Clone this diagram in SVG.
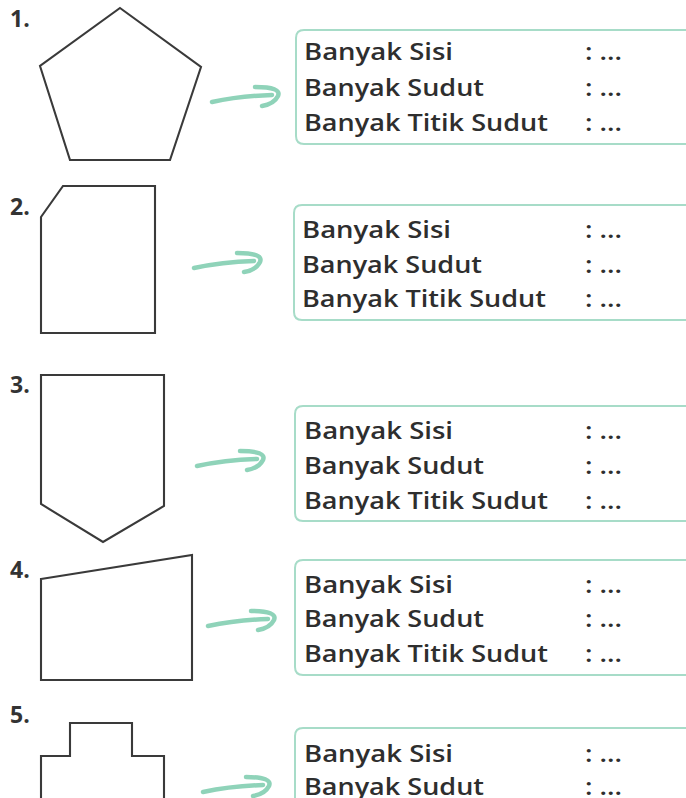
<svg xmlns="http://www.w3.org/2000/svg" width="686" height="798" viewBox="0 0 686 798">
<style>
.shape{fill:none;stroke:#3a3a3a;stroke-width:2.1;stroke-linejoin:miter}
.num{font-family:"Open Sans","Liberation Sans",sans-serif;font-weight:700;font-size:23px;fill:#333}
.box{fill:none;stroke:#a7dcc8;stroke-width:2}
.t{font-family:"Open Sans","Liberation Sans",sans-serif;font-weight:600;font-size:23px;fill:#2e2e2e}
.arr{fill:none;stroke:#8fd3b9;stroke-width:4.5;stroke-linecap:round;stroke-linejoin:round}
</style>
<rect width="686" height="798" fill="#fff"/>

<g id="item1">
<text class="num" x="10" y="27">1.</text>
<polygon class="shape" points="120,8 201,67 170,160 70,160 40,66"/>
</g>
<g id="item2">
<text class="num" x="10" y="215">2.</text>
<polygon class="shape" points="63,186 155,186 155,333 41,333 41,217"/>
</g>
<g id="item3">
<text class="num" x="10" y="393">3.</text>
<polygon class="shape" points="41,375 164,375 164,506 103,542 41,504"/>
</g>
<g id="item4">
<text class="num" x="10" y="578">4.</text>
<polygon class="shape" points="41,579 192,555 192,680 41,680"/>
</g>
<g id="item5">
<text class="num" x="10" y="723">5.</text>
<polyline class="shape" points="41,800 41,756 70,756 70,723 132,723 132,756 164,756 164,800"/>
</g>

<g id="connectors">
<g class="arr">
<path d="M212,102 Q240,96 272,95 M255,87 Q282,87 278,96 Q274,104 262,106"/>
<path d="M194,268 Q222,262 254,261 M237,253 Q264,253 260,262 Q256,270 244,272"/>
<path d="M197,466 Q225,460 257,459 M240,451 Q267,451 263,460 Q259,468 247,470"/>
<path d="M208,626 Q236,620 268,619 M251,611 Q278,611 274,620 Q270,628 258,630"/>
<path d="M203,792 Q231,786 263,785 M246,777 Q273,777 269,786 Q265,794 253,796"/>
</g>
</g>

<g id="box1">
<path class="box" d="M700,30 H304 Q296,30 296,38 V136 Q296,144 304,144 H700"/>
<text class="t" x="304" y="60" textLength="149" lengthAdjust="spacingAndGlyphs">Banyak Sisi</text>
<text class="t" x="304" y="96" textLength="180" lengthAdjust="spacingAndGlyphs">Banyak Sudut</text>
<text class="t" x="304" y="131" textLength="244" lengthAdjust="spacingAndGlyphs">Banyak Titik Sudut</text>
<text class="t" x="585" y="60" textLength="37" lengthAdjust="spacingAndGlyphs">: ...</text>
<text class="t" x="585" y="96" textLength="37" lengthAdjust="spacingAndGlyphs">: ...</text>
<text class="t" x="585" y="131" textLength="37" lengthAdjust="spacingAndGlyphs">: ...</text>
</g>
<g id="box2">
<path class="box" d="M700,205 H302 Q294,205 294,213 V312 Q294,320 302,320 H700"/>
<text class="t" x="302" y="238" textLength="149" lengthAdjust="spacingAndGlyphs">Banyak Sisi</text>
<text class="t" x="302" y="273" textLength="180" lengthAdjust="spacingAndGlyphs">Banyak Sudut</text>
<text class="t" x="302" y="307" textLength="244" lengthAdjust="spacingAndGlyphs">Banyak Titik Sudut</text>
<text class="t" x="585" y="238" textLength="37" lengthAdjust="spacingAndGlyphs">: ...</text>
<text class="t" x="585" y="273" textLength="37" lengthAdjust="spacingAndGlyphs">: ...</text>
<text class="t" x="585" y="307" textLength="37" lengthAdjust="spacingAndGlyphs">: ...</text>
</g>
<g id="box3">
<path class="box" d="M700,406 H303 Q295,406 295,414 V513 Q295,521 303,521 H700"/>
<text class="t" x="304" y="439" textLength="149" lengthAdjust="spacingAndGlyphs">Banyak Sisi</text>
<text class="t" x="304" y="474" textLength="180" lengthAdjust="spacingAndGlyphs">Banyak Sudut</text>
<text class="t" x="304" y="509" textLength="244" lengthAdjust="spacingAndGlyphs">Banyak Titik Sudut</text>
<text class="t" x="585" y="439" textLength="37" lengthAdjust="spacingAndGlyphs">: ...</text>
<text class="t" x="585" y="474" textLength="37" lengthAdjust="spacingAndGlyphs">: ...</text>
<text class="t" x="585" y="509" textLength="37" lengthAdjust="spacingAndGlyphs">: ...</text>
</g>
<g id="box4">
<path class="box" d="M700,560 H303 Q295,560 295,568 V667 Q295,675 303,675 H700"/>
<text class="t" x="304" y="593" textLength="149" lengthAdjust="spacingAndGlyphs">Banyak Sisi</text>
<text class="t" x="304" y="627" textLength="180" lengthAdjust="spacingAndGlyphs">Banyak Sudut</text>
<text class="t" x="304" y="662" textLength="244" lengthAdjust="spacingAndGlyphs">Banyak Titik Sudut</text>
<text class="t" x="585" y="593" textLength="37" lengthAdjust="spacingAndGlyphs">: ...</text>
<text class="t" x="585" y="627" textLength="37" lengthAdjust="spacingAndGlyphs">: ...</text>
<text class="t" x="585" y="662" textLength="37" lengthAdjust="spacingAndGlyphs">: ...</text>
</g>
<g id="box5">
<path class="box" d="M700,728 H303 Q295,728 295,736 V810"/>
<text class="t" x="304" y="762" textLength="149" lengthAdjust="spacingAndGlyphs">Banyak Sisi</text>
<text class="t" x="304" y="795" textLength="180" lengthAdjust="spacingAndGlyphs">Banyak Sudut</text>
<text class="t" x="585" y="762" textLength="37" lengthAdjust="spacingAndGlyphs">: ...</text>
<text class="t" x="585" y="795" textLength="37" lengthAdjust="spacingAndGlyphs">: ...</text>
</g>
</svg>
